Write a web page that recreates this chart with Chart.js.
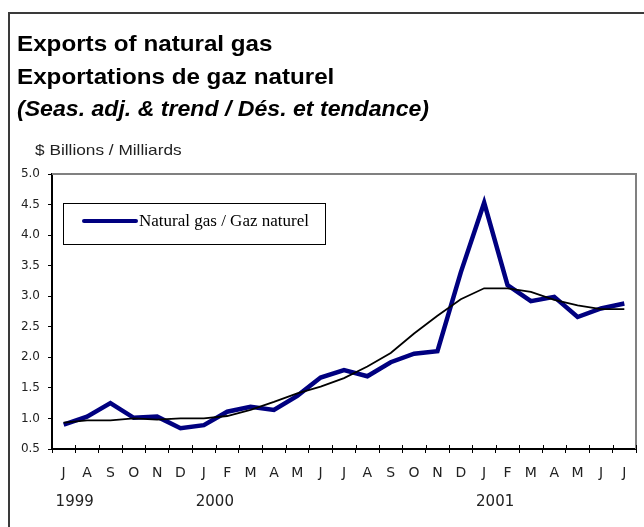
<!DOCTYPE html>
<html>
<head>
<meta charset="utf-8">
<script src="https://cdn.jsdelivr.net/npm/chart.js@4/dist/chart.umd.min.js"></script>
<style>
  body { margin: 0; background: #fff; }
</style>
</head>
<body>
<canvas id="gasChart" width="644" height="527"></canvas>
<script>
// month initials, Jul 1999 .. Jul 2001
const months = ['J','A','S','O','N','D','J','F','M','A','M','J','J','A','S','O','N','D','J','F','M','A','M','J','J'];
const yearLabels = ['1999', '2000', '2001'];
const yearStartIndex = [0, 6, 18];

// $ billions, seasonally adjusted
const gasExports = [0.90, 1.03, 1.25, 1.01, 1.03, 0.84, 0.89, 1.11, 1.19, 1.14, 1.37, 1.67,
                    1.79, 1.69, 1.92, 2.06, 2.10, 3.39, 4.53, 3.18, 2.92, 2.99, 2.66, 2.80, 2.88];
// trend-cycle
const gasTrend = [0.93, 0.97, 0.97, 1.00, 0.98, 1.00, 1.00, 1.04, 1.14, 1.27, 1.41, 1.52,
                  1.66, 1.85, 2.07, 2.39, 2.68, 2.95, 3.13, 3.13, 3.07, 2.94, 2.85, 2.79, 2.79];

const yTicks = { min: 0.5, max: 5.0, step: 0.5 };

const titleLines = [
    { text: 'Exports of natural gas', font: 'bold 22px "Liberation Sans", Arial', y: 51, sx: 1.1 },
    { text: 'Exportations de gaz naturel', font: 'bold 22px "Liberation Sans", Arial', y: 84, sx: 1.1 },
    { text: '(Seas. adj. & trend / Dés. et tendance)', font: 'italic bold 22px "Liberation Sans", Arial', y: 116, sx: 1.05 }
];

const decorations = {
    id: 'decorations',
    beforeDraw(chart) {
        const c = chart.ctx;
        c.save();
        // outer frame
        c.strokeStyle = '#3a3a3a';
        c.lineWidth = 2;
        c.strokeRect(9, 13, 1000, 1000);
        // titles, slightly stretched sideways like the original
        c.fillStyle = '#000';
        c.textBaseline = 'alphabetic';
        titleLines.forEach(t => {
            c.save();
            c.font = t.font;
            c.translate(17, t.y);
            c.scale(t.sx, 1);
            c.fillText(t.text, 0, 0);
            c.restore();
        });
        // unit label
        c.save();
        c.font = '15px "Liberation Sans", Arial';
        c.fillStyle = '#222';
        c.translate(35, 155);
        c.scale(1.15, 1);
        c.fillText('$ Billions / Milliards', 0, 0);
        c.restore();
        c.restore();
    },
    beforeDatasetsDraw(chart) {
        const a = chart.chartArea;
        const c = chart.ctx;
        c.save();
        c.strokeStyle = '#808080';
        c.lineWidth = 2;
        c.beginPath();
        c.moveTo(a.left, a.top);
        c.lineTo(a.right, a.top);
        c.lineTo(a.right, a.bottom);
        c.stroke();
        // x tick marks cross the axis
        const xs = chart.scales.x;
        c.strokeStyle = '#000';
        c.lineWidth = 1;
        for (let i = 0; i <= months.length; i++) {
            const x = Math.round(xs.left + i * xs.width / months.length) + 0.5;
            c.beginPath();
            c.moveTo(x, a.bottom - 4);
            c.lineTo(x, a.bottom);
            c.stroke();
        }
        c.restore();
    },
    afterDraw(chart) {
        const c = chart.ctx;
        const xs = chart.scales.x;
        c.save();
        // years under the month letters
        c.font = '15px "DejaVu Sans", Verdana, sans-serif';
        c.fillStyle = '#222';
        c.textAlign = 'center';
        c.textBaseline = 'middle';
        yearLabels.forEach((y, i) => {
            c.fillText(y, xs.getPixelForValue(yearStartIndex[i]) + 11, 502);
        });
        // boxed legend for the main series
        const ds = chart.data.datasets[1];
        c.strokeStyle = '#000';
        c.lineWidth = 1;
        c.strokeRect(63.5, 203.5, 262, 41);
        c.strokeStyle = ds.borderColor;
        c.lineWidth = 4;
        c.lineCap = 'round';
        c.beginPath();
        c.moveTo(84, 221);
        c.lineTo(136, 221);
        c.stroke();
        c.font = '17px "Liberation Serif", "Times New Roman", serif';
        c.fillStyle = '#000';
        c.textAlign = 'left';
        c.fillText(ds.label, 139, 222);
        c.restore();
    }
};

new Chart(document.getElementById('gasChart'), {
    type: 'line',
    data: {
        labels: months,
        datasets: [
            {
                label: 'Trend',
                data: gasTrend,
                borderColor: '#000',
                borderWidth: 1.8,
                pointRadius: 0,
                tension: 0
            },
            {
                label: 'Natural gas / Gaz naturel',
                data: gasExports,
                borderColor: '#000080',
                borderWidth: 4.5,
                pointRadius: 0,
                tension: 0,
                borderJoinStyle: 'miter'
            }
        ]
    },
    options: {
        responsive: false,
        devicePixelRatio: 1,
        animation: false,
        layout: { padding: { top: 174, right: 8, bottom: 0, left: 0 } },
        plugins: {
            legend: { display: false },
            tooltip: { enabled: false }
        },
        scales: {
            x: {
                offset: true,
                grid: { offset: true, drawOnChartArea: false, color: '#000', tickLength: 4 },
                border: { color: '#000', width: 2 },
                ticks: {
                    color: '#222',
                    padding: 12,
                    maxRotation: 0,
                    autoSkip: false,
                    font: { family: '"DejaVu Sans", Verdana, sans-serif', size: 14 }
                },
                afterFit(scale) { scale.height = 78; }
            },
            y: {
                min: yTicks.min,
                max: yTicks.max,
                grid: { drawOnChartArea: false, color: '#000', tickLength: 4 },
                border: { color: '#000', width: 2 },
                ticks: {
                    stepSize: yTicks.step,
                    color: '#222',
                    padding: 8,
                    font: { family: '"DejaVu Sans", Verdana, sans-serif', size: 12 },
                    callback: v => v.toFixed(1)
                },
                afterFit(scale) { scale.width = 52; }
            }
        }
    },
    plugins: [decorations]
});
</script>
</body>
</html>
